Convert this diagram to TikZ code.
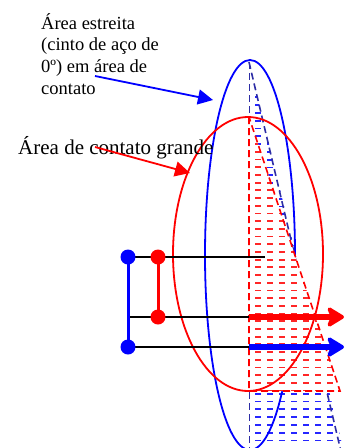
\documentclass[tikz,border=0pt]{standalone}
\usepackage{fontspec}
\setmainfont{Liberation Serif}
\usetikzlibrary{arrows.meta}

\definecolor{triblue}{RGB}{45,45,165}

\tikzset{
  blueline/.style={draw=blue!85, line width=1.8pt, dash pattern=on 6pt off 6pt, dash phase=6pt},
  redline/.style={draw=red!85, line width=1.8pt, dash pattern=on 6pt off 6pt, dash phase=6pt},
  bdot/.style={circle, fill=blue, inner sep=0pt, minimum size=15pt},
  rdot/.style={circle, fill=red, inner sep=0pt, minimum size=15pt},
  lever/.style={black, line width=1.6pt},
  force/.style={line width=5.5pt, -{Stealth[length=20pt,width=24pt,inset=5pt,round]}},
  pointer/.style={line width=1.8pt, -{Triangle[length=15pt,width=15pt]}}
}

\begin{document}
\begin{tikzpicture}[x=1pt,y=-1pt]
\useasboundingbox (0,0) rectangle (348,448);

% Zona estreita (azul)
\begin{scope}
  \clip (249,62) -- (249,448) -- (343,448) -- cycle;
  \foreach \yy in {66,73.8,...,448}
    \draw[blueline] (249,\yy) -- (348,\yy);
\end{scope}
\draw[triblue, line width=1.6pt, dash pattern=on 7pt off 4pt] (249,62) -- (343,460);
\draw[triblue, line width=1pt, dash pattern=on 7pt off 4pt] (249,62) -- (249,460);
\draw[blue, line width=1.8pt] (250,255) ellipse [x radius=45, y radius=195];

% Zona grande (vermelho)
\fill[white] (249,117) -- (249,391) -- (340,391) -- cycle;
\begin{scope}
  \clip (249,117) -- (249,391) -- (340,391) -- cycle;
  \foreach \yy in {121,128.7,...,391}
    \draw[redline] (249,\yy) -- (348,\yy);
\end{scope}
\draw[red, line width=1.6pt, dash pattern=on 7pt off 4pt] (249,117) -- (249,391) -- (340,391) -- cycle;
\draw[red, line width=1.8pt] (248,254) ellipse [x radius=75, y radius=137];

% Alavanca
\coordinate (btop) at (128,257);
\coordinate (bbot) at (128,347);
\coordinate (rtop) at (158,257);
\coordinate (rbot) at (158,317);
\coordinate (bmid) at (128,317);
\coordinate (pivot) at (265,257);
\coordinate (rstart) at (249,317);
\coordinate (rtip) at (344,317);
\coordinate (bstart) at (249,347);
\coordinate (btip) at (344,347);

\draw[lever] (btop) -- (pivot);
\draw[lever] (bmid) -- (rstart);
\draw[lever] (bbot) -- (bstart);
\draw[blue, line width=3pt] (btop) -- (bbot);
\draw[red, line width=3pt] (rtop) -- (rbot);
\node[bdot] (bdottop) at (btop) {};
\node[bdot] (bdotbot) at (bbot) {};
\node[rdot] (rdottop) at (rtop) {};
\node[rdot] (rdotbot) at (rbot) {};

% Forças
\draw[force, red] (rstart) -- (rtip);
\draw[force, blue] (bstart) -- (btip);

% Legendas
\node[anchor=north west, align=left, inner sep=0pt,
      font=\fontsize{18.5}{21.7}\selectfont] (narrow) at (41,13)
  {Área estreita\\(cinto de aço de\\0º) em área de\\contato};
\node[anchor=base west, inner sep=0pt, font=\fontsize{21}{25}\selectfont] (wide) at (18,154)
  {Área de contato grande};

\coordinate (narrowtail) at (95,76);
\coordinate (narrowtip) at (213,100);
\coordinate (widetail) at (95,147);
\coordinate (widetip) at (190,173);
\draw[pointer, blue] (narrowtail) -- (narrowtip);
\draw[pointer, red] (widetail) -- (widetip);

\end{tikzpicture}
\end{document}
